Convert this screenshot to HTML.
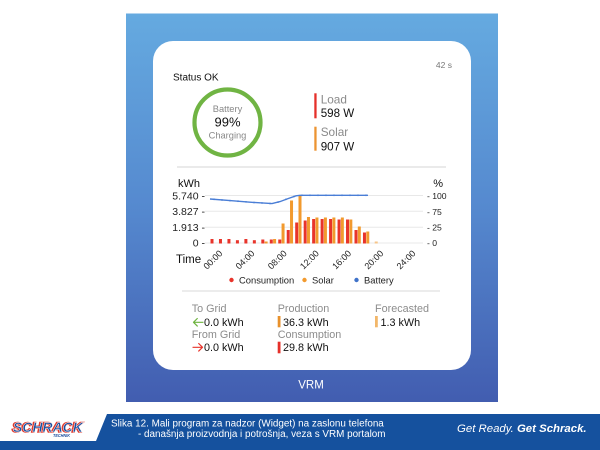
<!DOCTYPE html>
<html><head><meta charset="utf-8"><style>
html,body{margin:0;padding:0;background:#fff;}
svg{display:block;}
text{font-family:"Liberation Sans",Arial,sans-serif;}
</style></head><body>
<svg width="600" height="450" viewBox="0 0 600 450" xmlns="http://www.w3.org/2000/svg">
<defs>
<linearGradient id="bg" x1="0" y1="0" x2="0" y2="1">
<stop offset="0" stop-color="#65aae0"/>
<stop offset="0.5" stop-color="#5589cf"/>
<stop offset="1" stop-color="#425db0"/>
</linearGradient>
</defs>
<rect x="0" y="0" width="600" height="450" fill="#fff"/>
<rect x="126" y="13.5" width="372" height="388.5" fill="url(#bg)"/>
<rect x="153" y="41" width="318" height="329" rx="20" ry="20" fill="#fff"/>

<text x="452" y="68" font-size="8.5" fill="#777" text-anchor="end">42 s</text>
<text x="173" y="80.3" font-size="10" fill="#111">Status OK</text>

<circle cx="227.5" cy="122.5" r="33" fill="none" stroke="#70b443" stroke-width="4.2"/>
<text x="227.5" y="112" font-size="9.3" fill="#888" text-anchor="middle">Battery</text>
<text x="227.5" y="126.3" font-size="13" fill="#111" text-anchor="middle">99%</text>
<text x="227.5" y="138.5" font-size="9.3" fill="#888" text-anchor="middle">Charging</text>

<rect x="314.3" y="93.3" width="2.3" height="25" fill="#e5302a"/>
<text x="320.7" y="103.3" font-size="11.8" fill="#8a8a8a">Load</text>
<text x="320.7" y="117" font-size="11.6" fill="#111">598 W</text>
<rect x="314.3" y="126.7" width="2.3" height="24" fill="#ec9432"/>
<text x="320.7" y="136" font-size="11.8" fill="#8a8a8a">Solar</text>
<text x="320.7" y="150.3" font-size="11.6" fill="#111">907 W</text>

<line x1="177" y1="167" x2="446" y2="167" stroke="#e4e4e4" stroke-width="1.5"/>

<text x="178" y="187.2" font-size="11" fill="#111">kWh</text>
<text x="443" y="187.2" font-size="11" fill="#111" text-anchor="end">%</text>

<g stroke="#e8e8e8" stroke-width="1">
<line x1="205" y1="195.5" x2="423" y2="195.5"/>
<line x1="205" y1="211.3" x2="423" y2="211.3"/>
<line x1="205" y1="227.2" x2="423" y2="227.2"/>
<line x1="205" y1="243" x2="423" y2="243"/>
</g>

<g font-size="10.5" fill="#222" text-anchor="end">
<text x="205" y="199.3">5.740 -</text>
<text x="205" y="215">3.827 -</text>
<text x="205" y="230.8">1.913 -</text>
<text x="205" y="246.5">0 -</text>
</g>
<g font-size="8.6" fill="#222">
<text x="427" y="199">- 100</text>
<text x="427" y="214.8">- 75</text>
<text x="427" y="230.6">- 25</text>
<text x="427" y="246">- 0</text>
</g>

<g fill="#e8342b">
<rect x="210.5" y="239" width="3" height="4.5"/>
<rect x="218.97" y="239" width="3" height="4.5"/>
<rect x="227.44" y="239" width="3" height="4.5"/>
<rect x="235.91" y="240.2" width="3" height="3.3"/>
<rect x="244.38" y="239" width="3" height="4.5"/>
<rect x="252.85" y="240.2" width="3" height="3.3"/>
<rect x="261.32" y="239.5" width="3" height="4"/>
<rect x="269.79" y="239.5" width="3" height="4"/>
<rect x="278.26" y="239.5" width="3" height="4"/>
<rect x="286.73" y="230" width="3" height="13.5"/>
<rect x="295.2" y="222.5" width="3" height="21"/>
<rect x="303.67" y="220.5" width="3" height="23"/>
<rect x="312.14" y="219" width="3" height="24.5"/>
<rect x="320.61" y="219" width="3" height="24.5"/>
<rect x="329.08" y="219" width="3" height="24.5"/>
<rect x="337.55" y="219.5" width="3" height="24"/>
<rect x="346.02" y="219.5" width="3" height="24"/>
<rect x="354.49" y="230" width="3" height="13.5"/>
<rect x="362.96" y="232.5" width="3" height="11"/>
</g>
<g fill="#f29a2e">
<rect x="264.62" y="241.5" width="3" height="2"/>
<rect x="273.09" y="239" width="3" height="4.5"/>
<rect x="281.56" y="223.5" width="3" height="20"/>
<rect x="290.03" y="200.5" width="3" height="43"/>
<rect x="298.5" y="195.5" width="3" height="48"/>
<rect x="306.97" y="217" width="3" height="26.5"/>
<rect x="315.44" y="217.5" width="3" height="26"/>
<rect x="323.91" y="217.5" width="3" height="26"/>
<rect x="332.38" y="217.5" width="3" height="26"/>
<rect x="340.85" y="217.5" width="3" height="26"/>
<rect x="349.32" y="219.5" width="3" height="24"/>
<rect x="357.79" y="226.5" width="3" height="17"/>
<rect x="366.26" y="231.5" width="3" height="12"/>
</g>
<rect x="374.73" y="241.5" width="3" height="2" fill="#f6c58a"/>

<polyline fill="none" stroke="#4a7ed6" stroke-width="1.4" points="210,199 230,200.6 250,202.2 272,203.6 280,201.6 288,198.6 296,195.8 300,195.3 368,195.3"/>
<g fill="#4a7ed6">
<circle cx="214" cy="199.3" r="0.9"/><circle cx="222" cy="200" r="0.9"/><circle cx="230" cy="200.6" r="0.9"/>
<circle cx="238" cy="201.2" r="0.9"/><circle cx="246" cy="201.9" r="0.9"/><circle cx="254" cy="202.5" r="0.9"/>
<circle cx="262" cy="203" r="0.9"/><circle cx="270" cy="203.5" r="0.9"/><circle cx="278" cy="202.1" r="0.9"/>
<circle cx="286" cy="199.3" r="0.9"/><circle cx="294" cy="196.5" r="0.9"/><circle cx="302" cy="195.3" r="0.9"/>
<circle cx="310" cy="195.3" r="0.9"/><circle cx="318" cy="195.3" r="0.9"/><circle cx="326" cy="195.3" r="0.9"/>
<circle cx="334" cy="195.3" r="0.9"/><circle cx="342" cy="195.3" r="0.9"/><circle cx="350" cy="195.3" r="0.9"/>
<circle cx="358" cy="195.3" r="0.9"/><circle cx="366" cy="195.3" r="0.9"/>
</g>

<text x="176" y="263" font-size="11.5" fill="#111">Time</text>
<g font-size="9" fill="#222" text-anchor="end">
<text transform="translate(223,254) rotate(-45)">00:00</text>
<text transform="translate(255.2,254) rotate(-45)">04:00</text>
<text transform="translate(287.4,254) rotate(-45)">08:00</text>
<text transform="translate(319.6,254) rotate(-45)">12:00</text>
<text transform="translate(351.8,254) rotate(-45)">16:00</text>
<text transform="translate(384,254) rotate(-45)">20:00</text>
<text transform="translate(416.2,254) rotate(-45)">24:00</text>
</g>

<circle cx="231.5" cy="280" r="2.2" fill="#e8342b"/>
<text x="239" y="283.3" font-size="9.4" fill="#222">Consumption</text>
<circle cx="304.5" cy="280" r="2.2" fill="#f29a2e"/>
<text x="312" y="283.3" font-size="9.4" fill="#222">Solar</text>
<circle cx="356.5" cy="280" r="2.2" fill="#3f72c9"/>
<text x="364" y="283.3" font-size="9.4" fill="#222">Battery</text>

<line x1="182" y1="291" x2="440" y2="291" stroke="#ececec" stroke-width="2"/>

<g font-size="10.8">
<text x="191.7" y="312.2" fill="#8c8c8c">To Grid</text>
<text x="204" y="326.2" fill="#111">0.0 kWh</text>
<text x="191.7" y="338.2" fill="#8c8c8c">From Grid</text>
<text x="204" y="351.2" fill="#111">0.0 kWh</text>
<text x="277.7" y="312.2" fill="#8c8c8c">Production</text>
<text x="283" y="326.2" fill="#111">36.3 kWh</text>
<text x="277.7" y="338.2" fill="#8c8c8c">Consumption</text>
<text x="283" y="351.2" fill="#111">29.8 kWh</text>
<text x="375" y="312.2" fill="#8c8c8c">Forecasted</text>
<text x="380.5" y="326.2" fill="#111">1.3 kWh</text>
</g>
<g fill="none" stroke-width="1.2" stroke-linecap="round" stroke-linejoin="round">
<path d="M203,322.3 H193.5 M197.3,318.5 L193.5,322.3 L197.3,326.1" stroke="#6db33f"/>
<path d="M193,347.3 H202.5 M198.7,343.5 L202.5,347.3 L198.7,351.1" stroke="#e8342b"/>
</g>
<rect x="277.7" y="316" width="2.8" height="11.3" fill="#e8912c"/>
<rect x="277.7" y="341.7" width="2.8" height="11.6" fill="#e5302a"/>
<rect x="375" y="316" width="2.8" height="11.3" fill="#f2b76a"/>

<text x="311" y="388.4" font-size="11.5" fill="#fff" text-anchor="middle">VRM</text>

<polygon points="107,414 600,414 600,450 0,450 0,441 96,441" fill="#15519e"/>
<text x="111" y="426.5" font-size="9.9" fill="#fff">Slika 12. Mali program za nadzor (Widget) na zaslonu telefona</text>
<text x="385.5" y="437" font-size="9.9" fill="#fff" text-anchor="end">- današnja proizvodnja i potrošnja, veza s VRM portalom</text>
<text x="457" y="432" font-size="11.4" fill="#fff" font-style="italic">Get Ready.<tspan font-weight="bold"> Get Schrack.</tspan></text>

<text x="12" y="432" font-size="14" font-weight="bold" font-style="italic" fill="none" stroke="#e03a2e" stroke-width="1.6" textLength="70" lengthAdjust="spacingAndGlyphs">SCHRACK</text>
<text x="13" y="432" font-size="14" font-weight="bold" font-style="italic" fill="#1d4f9e" stroke="#fff" stroke-width="0.4" textLength="70" lengthAdjust="spacingAndGlyphs">SCHRACK</text>
<text x="53" y="437" font-size="4.5" font-weight="bold" font-style="italic" fill="#1d4f9e" textLength="17" lengthAdjust="spacingAndGlyphs">TECHNIK</text>
</svg>
</body></html>
